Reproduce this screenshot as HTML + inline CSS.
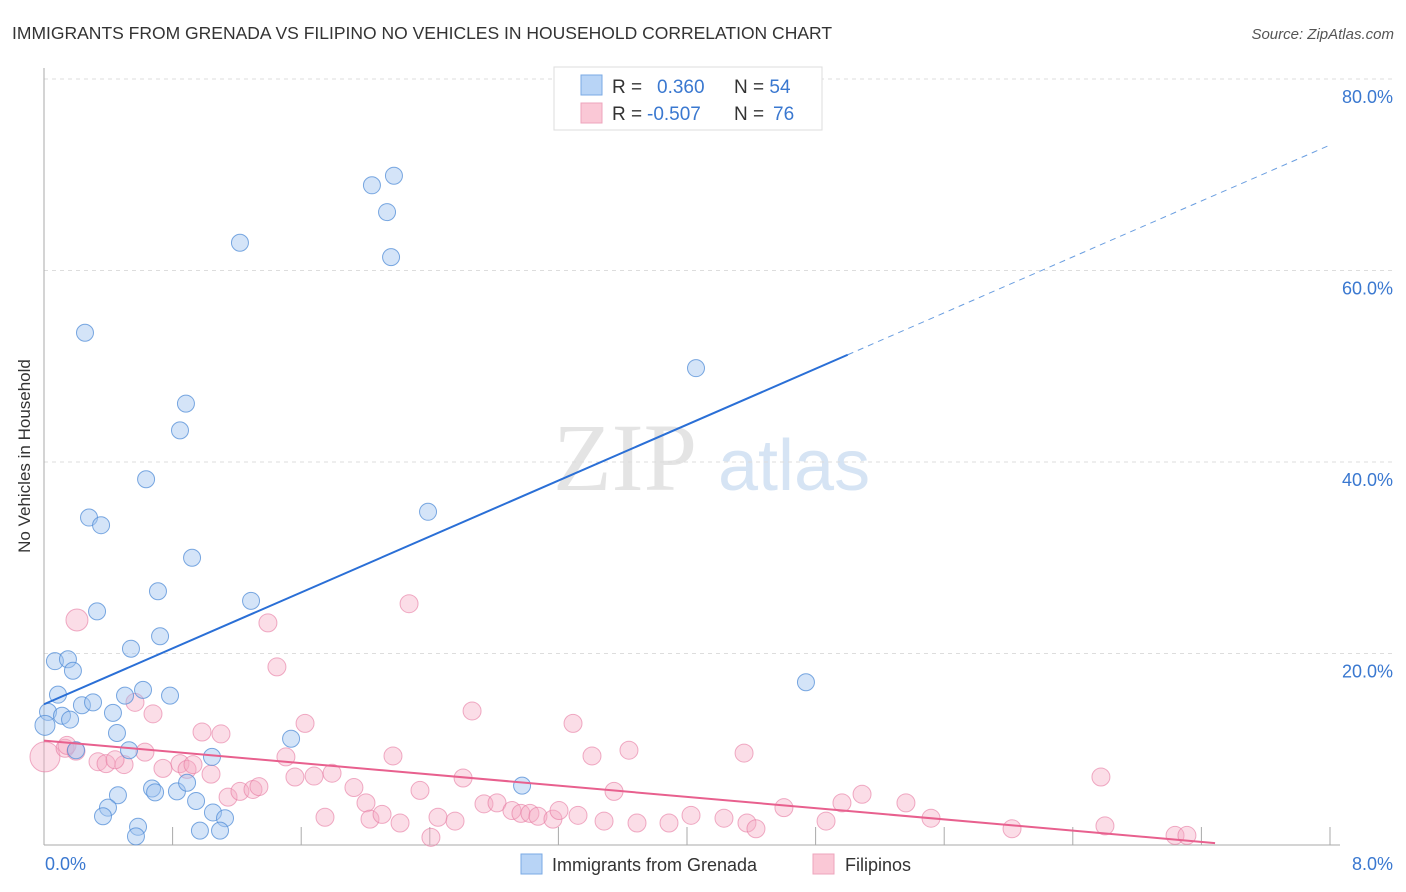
<!DOCTYPE html>
<html><head><meta charset="utf-8"><style>
body{margin:0;background:#fff;font-family:"Liberation Sans",sans-serif;}
svg{display:block}
</style></head><body>
<svg id="chart" width="1406" height="892" xmlns="http://www.w3.org/2000/svg">
<text x="12" y="39" font-size="17.5" fill="#333">IMMIGRANTS FROM GRENADA VS FILIPINO NO VEHICLES IN HOUSEHOLD CORRELATION CHART</text>
<text x="1394" y="39" font-size="15" fill="#555" font-style="italic" text-anchor="end">Source: ZipAtlas.com</text>
<g>
<text x="553" y="490" font-size="96" font-family="Liberation Serif,serif" fill="#e4e4e4">ZIP</text>
<text x="718" y="490" font-size="72" fill="#d6e4f4">atlas</text>
</g>
<g id="grid"></g>
<g id="axes"></g>
<text x="30" y="456" font-size="17" fill="#333" text-anchor="middle" transform="rotate(-90 30 456)">No Vehicles in Household</text>
<g id="pink"></g>
<g id="blue"></g>
<g id="trend"></g>
<g>
<rect x="554" y="67" width="268" height="63" fill="#fff" stroke="#ddd"/>
<rect x="581" y="75" width="21" height="20" fill="#b8d4f6" stroke="#7aaae4"/>
<rect x="581" y="103" width="21" height="20" fill="#fac8d6" stroke="#eea4bc"/>
<text x="612" y="93" font-size="19" fill="#333">R = <tspan fill="#3a78d0" x="657">0.360</tspan><tspan fill="#333" x="734">N = </tspan><tspan fill="#3a78d0">54</tspan></text>
<text x="612" y="120" font-size="19" fill="#333">R = <tspan fill="#3a78d0" x="647">-0.507</tspan><tspan fill="#333" x="734">N = </tspan><tspan fill="#3a78d0" x="773">76</tspan></text>
</g>
<g>
<rect x="521" y="854" width="21" height="20" fill="#b8d4f6" stroke="#7aaae4"/>
<text x="552" y="871" font-size="18" fill="#333">Immigrants from Grenada</text>
<rect x="813" y="854" width="21" height="20" fill="#fac8d6" stroke="#eea4bc"/>
<text x="845" y="871" font-size="18" fill="#333">Filipinos</text>
</g>
</svg>
<script>
const yTicks=[20,40,60,80];
const yTickLabels=["20.0%","40.0%","60.0%","80.0%"];
const xLabels=["0.0%","8.0%"];
const blueX=[0.255,1.219,2.040,2.177,2.134,2.159,0.883,0.846,0.635,0.280,0.355,2.389,0.921,0.709,1.288,0.330,0.722,0.541,0.068,0.149,0.180,4.056,4.740,0.087,0.504,0.616,0.784,0.236,0.305,0.025,0.112,0.162,0.429,0.454,1.537,0.529,0.199,1.045,0.672,0.691,0.827,0.890,0.460,0.946,0.398,0.367,1.051,1.126,2.974,0.585,0.572,0.970,1.095,0.006];
const blueY=[53.5,62.9,68.9,69.9,66.1,61.4,46.1,43.3,38.2,34.2,33.4,34.8,30.0,26.5,25.5,24.4,21.8,20.5,19.2,19.4,18.2,49.8,17.0,15.7,15.6,16.2,15.6,14.6,14.9,13.9,13.5,13.1,13.8,11.7,11.1,9.9,9.9,9.2,5.9,5.5,5.6,6.5,5.2,4.6,3.9,3.0,3.4,2.8,6.2,1.9,0.9,1.5,1.5,12.5];
const pinkX=[0.205,2.271,1.393,1.449,0.678,0.566,1.624,2.663,3.291,0.006,0.131,0.143,0.199,0.336,0.386,0.498,0.442,0.628,0.740,0.846,0.890,0.983,1.101,1.039,0.927,1.505,1.561,1.680,1.792,1.928,2.171,2.339,2.607,3.409,3.639,3.546,4.355,5.089,5.362,6.575,1.145,1.219,1.300,1.337,1.748,2.003,2.028,2.103,2.215,2.451,2.407,2.557,2.737,2.818,2.911,2.967,3.023,3.073,3.166,3.204,3.322,3.484,3.689,3.888,4.025,4.230,4.373,4.429,4.603,4.865,4.964,5.518,6.022,6.600,7.036,7.110];
const pinkY=[23.5,25.2,23.2,18.6,13.7,14.9,12.7,14.0,12.7,9.2,10.1,10.4,9.8,8.7,8.5,8.4,8.9,9.7,8.0,8.5,7.9,11.8,11.6,7.4,8.4,9.2,7.1,7.2,7.5,6.0,9.3,5.7,7.0,9.3,9.9,5.6,9.6,5.3,4.4,7.1,5.0,5.6,5.8,6.1,2.9,4.4,2.7,3.2,2.3,2.9,0.8,2.5,4.3,4.4,3.6,3.3,3.3,3.0,2.7,3.6,3.1,2.5,2.3,2.3,3.1,2.8,2.3,1.7,3.9,2.5,4.4,2.8,1.7,2.0,1.0,1.0];
const blueTrend=[14.7,51.2,73.1]; // at x=0, 5.0, 8
const pinkTrend=[10.9,0.2]; // at x=0, 7.285
const NS="http://www.w3.org/2000/svg";
const X0=44,XW=160.75,Y0=845,YH=9.575;
const sx=v=>X0+v*XW, sy=v=>Y0-v*YH;
function mk(tag,attrs,parent){const e=document.createElementNS(NS,tag);for(const k in attrs)e.setAttribute(k,attrs[k]);parent.appendChild(e);return e;}
const grid=document.getElementById('grid'),axes=document.getElementById('axes');
yTicks.forEach((t,i)=>{
  const l=mk('line',{x1:X0,x2:1394,y1:sy(t),y2:sy(t),stroke:'#ddd','stroke-dasharray':'4,4'},grid);
  
  
  const tx=mk('text',{x:1393,y:sy(t)+24,'font-size':18,fill:'#3a78d0','text-anchor':'end'},grid);
  tx.textContent=yTickLabels[i];
  
  
});
const ya=mk('line',{x1:X0,x2:X0,y1:68,y2:Y0,stroke:'#aaa'},axes);


const xa=mk('line',{x1:X0,x2:1340,y1:Y0,y2:Y0,stroke:'#aaa'},axes);


for(let i=1;i<=10;i++){
  const t=mk('line',{x1:sx(i*0.8),x2:sx(i*0.8),y1:Y0-18,y2:Y0,stroke:'#aaa'},axes);
  
  
}
[[0,'start',45],[8,'end',1393]].forEach((d,i)=>{
  const tx=mk('text',{x:d[2],y:870,'font-size':18,fill:'#3a78d0','text-anchor':d[1]},axes);
  tx.textContent=xLabels[i];
  
  
});
const pg=document.getElementById('pink');
pinkX.forEach((x,i)=>{
  const r=(i===0||i===9)?(i===9?15:11):9;
  const c=mk('circle',{cx:sx(x),cy:sy(pinkY[i]),r:r,fill:'rgba(244,170,195,0.4)',stroke:'rgba(230,120,160,0.6)','stroke-width':1},pg);
  
  
});
const bg=document.getElementById('blue');
blueX.forEach((x,i)=>{
  const c=mk('circle',{cx:sx(x),cy:sy(blueY[i]),r:i===53?10:8.5,fill:'rgba(160,195,240,0.45)',stroke:'rgba(80,140,215,0.75)','stroke-width':1},bg);
  
  
});
const tg=document.getElementById('trend');
const b1=mk('line',{x1:sx(0),y1:sy(blueTrend[0]),x2:sx(5.0),y2:sy(blueTrend[1]),stroke:'#2a6fd6','stroke-width':2},tg);


const b2=mk('line',{x1:sx(5.0),y1:sy(blueTrend[1]),x2:sx(8),y2:sy(blueTrend[2]),stroke:'#6a9ee0','stroke-width':1,'stroke-dasharray':'6,5'},tg);


const p1=mk('line',{x1:sx(0),y1:sy(pinkTrend[0]),x2:sx(7.285),y2:sy(pinkTrend[1]),stroke:'#e8608e','stroke-width':2},tg);


</script>
</body></html>
